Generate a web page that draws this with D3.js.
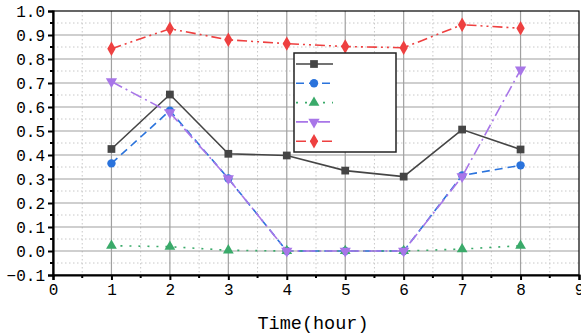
<!DOCTYPE html>
<html>
<head>
<meta charset="utf-8">
<script src="https://cdn.jsdelivr.net/npm/d3@7"></script>
<style>
  body { margin: 0; background: #fff; }
  svg { display: block; }
  .tick text { font-family: "Liberation Mono", "DejaVu Sans Mono", monospace; }
</style>
</head>
<body>
<div id="chart"></div>
<script>
// x positions (hours)
var hours = [1, 2, 3, 4, 5, 6, 7, 8];

// series values
var seriesGray   = [0.425, 0.652, 0.405, 0.398, 0.335, 0.31, 0.506, 0.423];
var seriesBlue   = [0.365, 0.585, 0.302, 0, 0, 0, 0.315, 0.357];
var seriesGreen  = [0.022, 0.018, 0.003, 0, 0, 0, 0.008, 0.022];
var seriesPurple = [0.706, 0.577, 0.302, 0, 0, 0, 0.31, 0.755];
var seriesRed    = [0.843, 0.926, 0.88, 0.864, 0.852, 0.847, 0.943, 0.928];

var xTicks = [0, 1, 2, 3, 4, 5, 6, 7, 8, 9];
var yTicks = [-0.1, 0, 0.1, 0.2, 0.3, 0.4, 0.5, 0.6, 0.7, 0.8, 0.9, 1.0];
var xLabel = "Time(hour)";

var series = [
  {values: seriesGray,   color: "#454545", dash: null,               symbol: d3.symbolSquare,   size: 60, rot: 0},
  {values: seriesBlue,   color: "#2a73dc", dash: "8,5",              symbol: d3.symbolCircle,   size: 55, rot: 0},
  {values: seriesGreen,  color: "#3aaa6a", dash: "2,7",              symbol: d3.symbolTriangle, size: 50, rot: 0},
  {values: seriesPurple, color: "#a876e8", dash: "12,4,2,4",         symbol: d3.symbolTriangle, size: 55, rot: 180},
  {values: seriesRed,    color: "#ee4040", dash: "10,4,2,4,2,4",     symbol: d3.symbolDiamond,  size: 60, rot: 0}
];

var W = 581, H = 334;
var margin = {top: 11, right: 2, bottom: 59, left: 53};
var width = W - margin.left - margin.right;
var height = H - margin.top - margin.bottom;

var svg = d3.select("#chart").append("svg")
  .attr("width", W).attr("height", H);
var g = svg.append("g")
  .attr("transform", "translate(" + margin.left + "," + margin.top + ")");

var x = d3.scaleLinear().domain([0, 9]).range([0, width]);
var y = d3.scaleLinear().domain([-0.1, 1.0]).range([height, 0]);

// minor grid (dotted)
var xMinor = d3.range(0.5, 9, 1);
var yMinor = d3.range(-0.05, 1.0, 0.1);
g.selectAll(".vminor").data(xMinor).enter().append("line")
  .attr("x1", d => x(d)).attr("x2", d => x(d))
  .attr("y1", 0).attr("y2", height)
  .attr("stroke", "#c8c8c8").attr("stroke-dasharray", "1.5,2.5");
g.selectAll(".hminor").data(yMinor).enter().append("line")
  .attr("y1", d => y(d)).attr("y2", d => y(d))
  .attr("x1", 0).attr("x2", width)
  .attr("stroke", "#c8c8c8").attr("stroke-dasharray", "1.5,2.5");

// major grid
g.selectAll(".vmajor").data(xTicks.slice(1, -1)).enter().append("line")
  .attr("x1", d => x(d)).attr("x2", d => x(d))
  .attr("y1", 0).attr("y2", height)
  .attr("stroke", "#a0a0a0").attr("stroke-width", 1.2);
g.selectAll(".hmajor").data(yTicks.slice(1, -1)).enter().append("line")
  .attr("y1", d => y(d)).attr("y2", d => y(d))
  .attr("x1", 0).attr("x2", width)
  .attr("stroke", "#a0a0a0").attr("stroke-width", 1.2);

// frame
g.append("rect").attr("width", width).attr("height", height)
  .attr("fill", "none").attr("stroke", "#000").attr("stroke-width", 1.2);

// axes
var xAxis = d3.axisBottom(x).tickValues(xTicks).tickSize(5).tickPadding(4).tickFormat(d3.format("d"));
var yAxis = d3.axisLeft(y).tickValues(yTicks).tickSize(5).tickPadding(3).tickFormat(d3.format(".1f"));

var gx = g.append("g").attr("transform", "translate(0," + height + ")").call(xAxis);
var gy = g.append("g").call(yAxis);
[gx, gy].forEach(function(a){
  a.select(".domain").attr("stroke", "#000").attr("stroke-width", 2.2);
  a.selectAll(".tick line").attr("stroke", "#000").attr("stroke-width", 2);
  a.selectAll(".tick text").attr("fill", "#000").attr("font-size", 16);
});

// minor ticks
g.selectAll(".xmt").data(xMinor).enter().append("line")
  .attr("x1", d => x(d)).attr("x2", d => x(d))
  .attr("y1", height).attr("y2", height + 3)
  .attr("stroke", "#000").attr("stroke-width", 2);
g.selectAll(".ymt").data(yMinor).enter().append("line")
  .attr("y1", d => y(d)).attr("y2", d => y(d))
  .attr("x1", 0).attr("x2", -3)
  .attr("stroke", "#000").attr("stroke-width", 2);

// axis title
g.append("text")
  .attr("x", width / 2 - 3).attr("y", height + 54)
  .attr("text-anchor", "middle")
  .attr("font-family", "'Liberation Mono', monospace")
  .attr("font-size", 18.5)
  .text(xLabel);

// lines and markers
var line = d3.line().x((d, i) => x(hours[i])).y(d => y(d));
series.forEach(function(s){
  g.append("path").datum(s.values)
    .attr("d", line)
    .attr("fill", "none")
    .attr("stroke", s.color)
    .attr("stroke-width", 1.6)
    .attr("stroke-dasharray", s.dash);
  g.selectAll(null).data(s.values).enter().append("path")
    .attr("d", d3.symbol().type(s.symbol).size(s.size))
    .attr("transform", (d, i) => "translate(" + x(hours[i]) + "," + y(d) + ") rotate(" + s.rot + ")")
    .attr("fill", s.color);
});

// legend (no labels)
var leg = svg.append("g").attr("transform", "translate(294,53)");
leg.append("rect").attr("width", 102).attr("height", 99)
  .attr("fill", "#fff").attr("stroke", "#222").attr("stroke-width", 1.5);
series.forEach(function(s, i){
  var yy = 11 + i * 19.3;
  leg.append("line")
    .attr("x1", 2).attr("x2", 39).attr("y1", yy).attr("y2", yy)
    .attr("stroke", s.color).attr("stroke-width", 1.6)
    .attr("stroke-dasharray", s.dash);
  leg.append("path")
    .attr("d", d3.symbol().type(s.symbol).size(s.size))
    .attr("transform", "translate(20," + yy + ") rotate(" + s.rot + ")")
    .attr("fill", s.color);
});
</script>
</body>
</html>
